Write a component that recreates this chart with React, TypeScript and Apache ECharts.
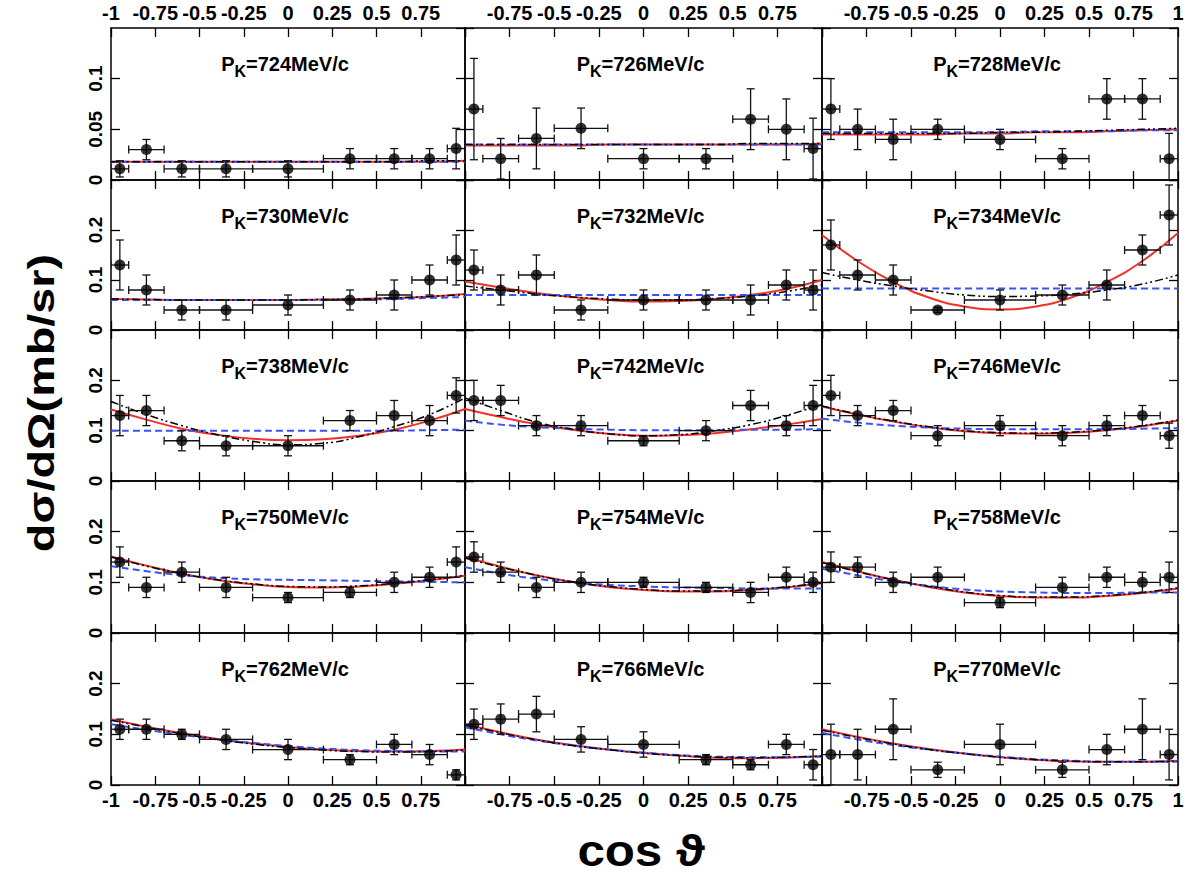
import React, { useEffect, useRef } from "react";
import * as echarts from "echarts";

const momenta = [724, 726, 728, 730, 732, 734, 738, 742, 746, 750, 754, 758, 762, 766, 770];
const cosTheta = [-0.95, -0.8, -0.6, -0.35, 0, 0.35, 0.6, 0.8, 0.95];
const cosThetaErr = [0.05, 0.1, 0.1, 0.15, 0.2, 0.15, 0.1, 0.1, 0.05];
const xTicks = [-1, -0.75, -0.5, -0.25, 0, 0.25, 0.5, 0.75, 1];
const curveX = [-1, -0.8, -0.6, -0.4, -0.2, 0, 0.2, 0.4, 0.6, 0.8, 1];
const yMaxByRow = [0.15, 0.3, 0.3, 0.3, 0.3];
const yStepByRow = [0.05, 0.1, 0.1, 0.1, 0.1];

const dsdo = [
  [0.011, 0.03, 0.011, 0.011, 0.011, 0.021, 0.021, 0.021, 0.031],
  [0.07, 0.021, 0.041, 0.051, 0.021, 0.021, 0.06, 0.05, 0.031],
  [0.07, 0.05, 0.04, 0.05, 0.04, 0.021, 0.08, 0.08, 0.021],
  [0.13, 0.08, 0.04, 0.04, 0.05, 0.06, 0.07, 0.1, 0.14],
  [0.12, 0.08, 0.11, 0.04, 0.06, 0.06, 0.06, 0.09, 0.08],
  [0.17, 0.11, 0.1, 0.04, 0.06, 0.07, 0.09, 0.16, 0.23],
  [0.13, 0.14, 0.08, 0.07, 0.07, 0.12, 0.13, 0.12, 0.17],
  [0.16, 0.16, 0.11, 0.11, 0.08, 0.1, 0.15, 0.11, 0.15],
  [0.17, 0.13, 0.14, 0.09, 0.11, 0.09, 0.11, 0.13, 0.09],
  [0.14, 0.09, 0.12, 0.09, 0.07, 0.08, 0.1, 0.11, 0.14],
  [0.15, 0.12, 0.09, 0.1, 0.1, 0.09, 0.08, 0.11, 0.1],
  [0.13, 0.13, 0.1, 0.11, 0.06, 0.09, 0.11, 0.1, 0.11],
  [0.11, 0.11, 0.1, 0.09, 0.07, 0.05, 0.08, 0.06, 0.02],
  [0.12, 0.13, 0.14, 0.09, 0.08, 0.05, 0.04, 0.08, 0.04],
  [0.06, 0.06, 0.11, 0.03, 0.08, 0.03, 0.07, 0.11, 0.06],
];

const dsdoErr = [
  [0.008, 0.01, 0.008, 0.008, 0.008, 0.01, 0.01, 0.01, 0.02],
  [0.05, 0.02, 0.03, 0.02, 0.01, 0.01, 0.03, 0.03, 0.03],
  [0.03, 0.02, 0.02, 0.01, 0.01, 0.01, 0.02, 0.02, 0.025],
  [0.05, 0.03, 0.02, 0.02, 0.02, 0.02, 0.03, 0.03, 0.05],
  [0.04, 0.03, 0.04, 0.02, 0.02, 0.02, 0.03, 0.03, 0.04],
  [0.05, 0.03, 0.03, 0.005, 0.02, 0.02, 0.03, 0.03, 0.06],
  [0.04, 0.03, 0.02, 0.02, 0.02, 0.02, 0.03, 0.03, 0.035],
  [0.04, 0.03, 0.02, 0.02, 0.01, 0.02, 0.03, 0.02, 0.04],
  [0.04, 0.02, 0.02, 0.02, 0.02, 0.02, 0.02, 0.02, 0.025],
  [0.03, 0.02, 0.02, 0.02, 0.01, 0.01, 0.02, 0.02, 0.03],
  [0.03, 0.02, 0.02, 0.02, 0.01, 0.01, 0.02, 0.02, 0.02],
  [0.03, 0.02, 0.02, 0.02, 0.01, 0.02, 0.02, 0.02, 0.03],
  [0.02, 0.02, 0.01, 0.02, 0.02, 0.01, 0.02, 0.02, 0.01],
  [0.03, 0.03, 0.035, 0.025, 0.025, 0.01, 0.01, 0.02, 0.03],
  [0.06, 0.05, 0.06, 0.015, 0.04, 0.015, 0.03, 0.06, 0.05],
];

const redFit = [
  [0.018, 0.018, 0.018, 0.018, 0.018, 0.018, 0.018, 0.018, 0.018, 0.018, 0.019],
  [0.034, 0.034, 0.034, 0.034, 0.035, 0.035, 0.035, 0.035, 0.035, 0.035, 0.036],
  [0.045, 0.045, 0.045, 0.045, 0.046, 0.046, 0.047, 0.047, 0.048, 0.049, 0.05],
  [0.062, 0.061, 0.06, 0.06, 0.06, 0.06, 0.061, 0.062, 0.064, 0.067, 0.072],
  [0.097, 0.085, 0.074, 0.066, 0.06, 0.057, 0.058, 0.062, 0.07, 0.082, 0.1],
  [0.19, 0.138, 0.096, 0.065, 0.047, 0.041, 0.047, 0.065, 0.096, 0.138, 0.194],
  [0.142, 0.122, 0.104, 0.092, 0.084, 0.081, 0.083, 0.09, 0.102, 0.12, 0.143],
  [0.143, 0.127, 0.113, 0.102, 0.094, 0.09, 0.091, 0.095, 0.103, 0.112, 0.123],
  [0.148, 0.132, 0.118, 0.107, 0.099, 0.095, 0.094, 0.096, 0.101, 0.109, 0.12],
  [0.151, 0.133, 0.117, 0.105, 0.096, 0.091, 0.09, 0.092, 0.097, 0.104, 0.113],
  [0.15, 0.131, 0.114, 0.101, 0.091, 0.085, 0.082, 0.082, 0.085, 0.09, 0.098],
  [0.14, 0.122, 0.105, 0.091, 0.08, 0.073, 0.07, 0.07, 0.073, 0.079, 0.088],
  [0.13, 0.115, 0.102, 0.091, 0.082, 0.075, 0.07, 0.067, 0.066, 0.067, 0.07],
  [0.12, 0.104, 0.09, 0.079, 0.07, 0.063, 0.058, 0.054, 0.053, 0.054, 0.057],
  [0.11, 0.095, 0.082, 0.071, 0.062, 0.055, 0.05, 0.047, 0.046, 0.046, 0.048],
];

const blackFit = [
  [0.018, 0.018, 0.018, 0.018, 0.018, 0.018, 0.018, 0.018, 0.018, 0.019, 0.019],
  [0.035, 0.035, 0.035, 0.035, 0.035, 0.035, 0.035, 0.035, 0.036, 0.036, 0.036],
  [0.046, 0.046, 0.046, 0.046, 0.046, 0.047, 0.047, 0.048, 0.049, 0.05, 0.051],
  [0.062, 0.061, 0.06, 0.06, 0.06, 0.06, 0.061, 0.062, 0.064, 0.067, 0.071],
  [0.088, 0.08, 0.072, 0.066, 0.062, 0.06, 0.06, 0.063, 0.068, 0.077, 0.09],
  [0.115, 0.1, 0.088, 0.078, 0.07, 0.067, 0.068, 0.072, 0.08, 0.092, 0.11],
  [0.158, 0.132, 0.11, 0.092, 0.079, 0.072, 0.075, 0.088, 0.108, 0.132, 0.165],
  [0.165, 0.14, 0.117, 0.103, 0.094, 0.09, 0.092, 0.1, 0.112, 0.13, 0.152],
  [0.149, 0.133, 0.119, 0.108, 0.1, 0.096, 0.095, 0.097, 0.102, 0.11, 0.121],
  [0.15, 0.132, 0.117, 0.105, 0.097, 0.092, 0.091, 0.093, 0.098, 0.105, 0.114],
  [0.148, 0.13, 0.114, 0.101, 0.092, 0.086, 0.083, 0.083, 0.086, 0.091, 0.099],
  [0.139, 0.121, 0.105, 0.092, 0.081, 0.074, 0.071, 0.071, 0.074, 0.08, 0.089],
  [0.128, 0.114, 0.101, 0.09, 0.081, 0.074, 0.069, 0.066, 0.065, 0.066, 0.069],
  [0.118, 0.103, 0.089, 0.078, 0.07, 0.063, 0.058, 0.055, 0.054, 0.055, 0.057],
  [0.108, 0.094, 0.081, 0.07, 0.062, 0.055, 0.05, 0.047, 0.046, 0.046, 0.047],
];

const blueFit = [
  [0.018, 0.018, 0.018, 0.018, 0.018, 0.018, 0.018, 0.018, 0.018, 0.018, 0.018],
  [0.035, 0.035, 0.035, 0.035, 0.035, 0.035, 0.035, 0.035, 0.035, 0.035, 0.035],
  [0.047, 0.047, 0.047, 0.047, 0.047, 0.047, 0.048, 0.048, 0.048, 0.049, 0.049],
  [0.06, 0.06, 0.06, 0.06, 0.06, 0.06, 0.06, 0.061, 0.062, 0.064, 0.066],
  [0.07, 0.07, 0.07, 0.07, 0.07, 0.07, 0.07, 0.07, 0.07, 0.07, 0.07],
  [0.083, 0.083, 0.083, 0.083, 0.083, 0.083, 0.083, 0.083, 0.083, 0.083, 0.083],
  [0.1, 0.1, 0.1, 0.1, 0.1, 0.1, 0.1, 0.1, 0.1, 0.101, 0.102],
  [0.12, 0.112, 0.107, 0.104, 0.102, 0.101, 0.101, 0.101, 0.102, 0.102, 0.103],
  [0.124, 0.116, 0.11, 0.106, 0.104, 0.103, 0.103, 0.103, 0.103, 0.104, 0.105],
  [0.132, 0.122, 0.114, 0.109, 0.106, 0.105, 0.104, 0.103, 0.102, 0.101, 0.1],
  [0.13, 0.117, 0.107, 0.1, 0.095, 0.092, 0.09, 0.089, 0.088, 0.088, 0.088],
  [0.127, 0.114, 0.102, 0.093, 0.086, 0.082, 0.08, 0.079, 0.079, 0.08, 0.08],
  [0.12, 0.109, 0.099, 0.09, 0.083, 0.077, 0.072, 0.069, 0.067, 0.066, 0.066],
  [0.114, 0.1, 0.088, 0.078, 0.07, 0.064, 0.059, 0.056, 0.055, 0.055, 0.056],
  [0.103, 0.09, 0.079, 0.07, 0.062, 0.056, 0.051, 0.048, 0.046, 0.046, 0.046],
];

const FONT = "'Liberation Sans', Arial, Helvetica, sans-serif";
const colLeft = [111, 465, 822];
const colWidth = [354, 357, 356];
const rowTop = [28, 180, 330, 481, 633];
const rowHeight = [152, 150, 151, 152, 152];

function fmt(v: number): string {
  const r = Math.round(v * 1000) / 1000;
  return String(r);
}

let measureCtx: CanvasRenderingContext2D | null = null;
function textWidth(text: string, size: number): number {
  if (!measureCtx) {
    const cv = document.createElement("canvas");
    measureCtx = cv.getContext("2d");
  }
  if (!measureCtx) return text.length * size * 0.6;
  measureCtx.font = `bold ${size}px ${FONT}`;
  return measureCtx.measureText(text).width;
}

function buildOption() {
  const grid: any[] = [];
  const xAxis: any[] = [];
  const yAxis: any[] = [];
  const series: any[] = [];
  const graphic: any[] = [];
  const axisLineStyle = { color: "#000", width: 1.5 };
  const tickStyle = { color: "#000", width: 1.3 };
  const labelStyle = { color: "#000", fontWeight: "bold", fontSize: 20, fontFamily: FONT };
  const titleSize = 20;
  const subSize = 16;

  momenta.forEach((p, i) => {
    const r = Math.floor(i / 3);
    const c = i % 3;
    grid.push({ left: colLeft[c], top: rowTop[r], width: colWidth[c], height: rowHeight[r], show: false });
    const xFormatter = (v: number) => {
      if (c !== 0 && Math.abs(v + 1) < 1e-6) return "";
      if (c !== 2 && Math.abs(v - 1) < 1e-6) return "";
      return fmt(v);
    };
    ["bottom", "top"].forEach((pos) => {
      xAxis.push({
        gridIndex: i,
        type: "value",
        position: pos,
        min: xTicks[0],
        max: xTicks[xTicks.length - 1],
        interval: 0.25,
        axisLine: { show: true, onZero: false, lineStyle: axisLineStyle },
        axisTick: { show: true, inside: true, length: 9, lineStyle: tickStyle },
        axisLabel: {
          show: (pos === "bottom" && r === 4) || (pos === "top" && r === 0),
          margin: 5,
          ...labelStyle,
          formatter: xFormatter,
        },
        splitLine: { show: false },
      });
    });
    ["left", "right"].forEach((pos) => {
      yAxis.push({
        gridIndex: i,
        type: "value",
        position: pos,
        min: 0,
        max: yMaxByRow[r],
        interval: yStepByRow[r],
        axisLine: { show: true, onZero: false, lineStyle: axisLineStyle },
        axisTick: { show: true, inside: true, length: 9, lineStyle: tickStyle },
        axisLabel: {
          show: pos === "left" && c === 0,
          rotate: 90,
          margin: 6,
          showMaxLabel: false,
          ...labelStyle,
          fontSize: 19,
          formatter: (v: number) => fmt(v),
        },
        splitLine: { show: false },
      });
    });
    const xi = 2 * i;
    const yi = 2 * i;
    series.push({
      type: "line",
      xAxisIndex: xi,
      yAxisIndex: yi,
      smooth: true,
      showSymbol: false,
      data: curveX.map((x, k) => [x, redFit[i][k]]),
      lineStyle: { color: "#f2302a", width: 2 },
      z: 2,
    });
    series.push({
      type: "line",
      xAxisIndex: xi,
      yAxisIndex: yi,
      smooth: true,
      showSymbol: false,
      data: curveX.map((x, k) => [x, blueFit[i][k]]),
      lineStyle: { color: "#3a52f5", width: 2, type: [7, 4] },
      z: 3,
    });
    series.push({
      type: "line",
      xAxisIndex: xi,
      yAxisIndex: yi,
      smooth: true,
      showSymbol: false,
      data: curveX.map((x, k) => [x, blackFit[i][k]]),
      lineStyle: { color: "#000", width: 1.5, type: [8, 3, 2, 3, 2, 3] },
      z: 4,
    });
    series.push({
      type: "custom",
      xAxisIndex: xi,
      yAxisIndex: yi,
      clip: true,
      encode: { x: 0, y: 1 },
      data: cosTheta.map((x, k) => [x, dsdo[i][k], cosThetaErr[k], dsdoErr[i][k]]),
      renderItem: (params: any, api: any) => {
        const x = api.value(0);
        const y = api.value(1);
        const dx = api.value(2);
        const dy = api.value(3);
        const ctr = api.coord([x, y]);
        const l = api.coord([x - dx, y]);
        const rr = api.coord([x + dx, y]);
        const t = api.coord([x, y + dy]);
        const b = api.coord([x, y - dy]);
        const cap = 4;
        const style = { stroke: "#111", lineWidth: 1.3, fill: null };
        return {
          type: "group",
          children: [
            { type: "line", shape: { x1: l[0], y1: ctr[1], x2: rr[0], y2: ctr[1] }, style },
            { type: "line", shape: { x1: l[0], y1: ctr[1] - cap, x2: l[0], y2: ctr[1] + cap }, style },
            { type: "line", shape: { x1: rr[0], y1: ctr[1] - cap, x2: rr[0], y2: ctr[1] + cap }, style },
            { type: "line", shape: { x1: ctr[0], y1: t[1], x2: ctr[0], y2: b[1] }, style },
            { type: "line", shape: { x1: ctr[0] - cap, y1: t[1], x2: ctr[0] + cap, y2: t[1] }, style },
            { type: "line", shape: { x1: ctr[0] - cap, y1: b[1], x2: ctr[0] + cap, y2: b[1] }, style },
          ],
        };
      },
      z: 5,
    });
    series.push({
      type: "scatter",
      xAxisIndex: xi,
      yAxisIndex: yi,
      symbol: "circle",
      symbolSize: 11,
      itemStyle: { color: "#000" },
      data: cosTheta.map((x, k) => [x, dsdo[i][k]]),
      z: 6,
    });

    const rest = `=${p}MeV/c`;
    const wP = textWidth("P", titleSize);
    const wK = textWidth("K", subSize);
    const wR = textWidth(rest, titleSize);
    const cx = colLeft[c] + colWidth[c] / 2 - 3;
    const cy = rowTop[r] + 36;
    const x0 = cx - (wP + wK + wR) / 2;
    const baseStyle = { fontWeight: "bold", fontFamily: FONT, fill: "#000", align: "left", verticalAlign: "middle" };
    graphic.push({ type: "text", x: x0, y: cy, z: 10, style: { ...baseStyle, text: "P", fontSize: titleSize } });
    graphic.push({ type: "text", x: x0 + wP, y: cy + 7, z: 10, style: { ...baseStyle, text: "K", fontSize: subSize } });
    graphic.push({ type: "text", x: x0 + wP + wK, y: cy, z: 10, style: { ...baseStyle, text: rest, fontSize: titleSize } });
  });

  graphic.push({
    type: "text",
    x: 641,
    y: 851,
    scaleX: 1.12,
    style: {
      text: "cos ϑ",
      fontSize: 44,
      fontWeight: "bold",
      fontFamily: FONT,
      fill: "#000",
      align: "center",
      verticalAlign: "middle",
    },
  });
  graphic.push({
    type: "text",
    x: 41,
    y: 403,
    rotation: Math.PI / 2,
    scaleX: 1.3,
    style: {
      text: "dσ/dΩ(mb/sr)",
      fontSize: 36,
      fontWeight: "bold",
      fontFamily: FONT,
      fill: "#000",
      align: "center",
      verticalAlign: "middle",
    },
  });

  return { animation: false, backgroundColor: "#fff", grid, xAxis, yAxis, series, graphic };
}

export default function App() {
  const ref = useRef<HTMLDivElement>(null);
  useEffect(() => {
    if (!ref.current) return;
    const chart = echarts.init(ref.current, undefined, { renderer: "svg" });
    chart.setOption(buildOption() as any);
    return () => chart.dispose();
  }, []);
  return (
    <div
      ref={ref}
      style={{ position: "fixed", left: 0, top: 0, width: 1195, height: 878, background: "#fff" }}
    />
  );
}
